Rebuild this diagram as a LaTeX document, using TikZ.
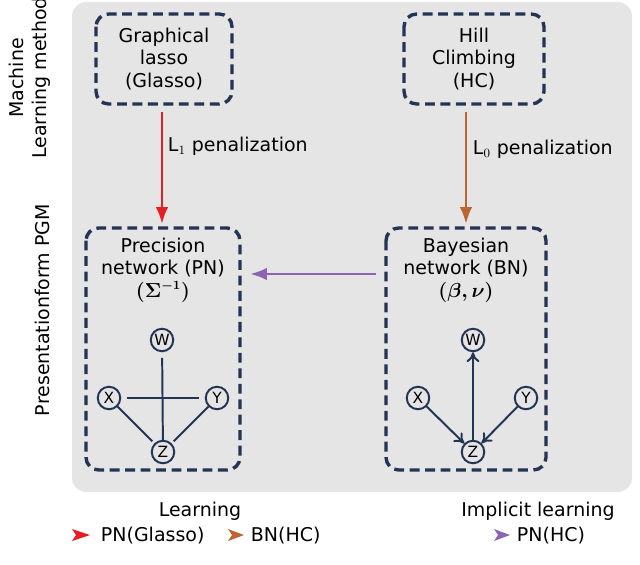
\documentclass[tikz,border=0pt]{standalone}
\usepackage{amsmath}
\usepackage{fontspec}
\setmainfont{DejaVu Sans}
\usetikzlibrary{arrows.meta}
\definecolor{navy}{RGB}{35,52,85}
\definecolor{bgray}{RGB}{229,229,229}
\definecolor{penred}{RGB}{230,30,35}
\definecolor{penbrown}{RGB}{190,100,50}
\definecolor{penpurple}{RGB}{140,100,180}
\tikzset{
  box/.style={draw=navy,line width=2.4pt,dash pattern=on 7pt off 4pt,rounded corners=9pt,align=center},
  var/.style={circle,draw=navy,line width=1.4pt,inner sep=0pt,minimum size=16pt,font=\fontsize{11}{12}\selectfont},
  edge/.style={draw=navy,line width=1.4pt},
  dir/.style={edge,-{Computer Modern Rightarrow[length=7pt,width=9pt]}},
  flow/.style={line width=2pt,-{Latex[length=12pt,width=9pt]}},
  txt/.style={align=center}
}
\begin{document}
\begin{tikzpicture}[x=0.025cm,y=-0.025cm,every node/.style={font=\fontsize{13.5}{16}\selectfont}]
    \useasboundingbox (0,0) rectangle (640,565);
    % Background panel
    \fill[bgray,rounded corners=10pt] (72,2) rectangle (632,492);

    % Method boxes
    \draw[box] (96,14) rectangle (232,104);
    \node[txt] (glasso) at (164,59) {Graphical\\lasso\\(Glasso)};
    \draw[box] (404,14) rectangle (544,104);
    \node[txt] (hc) at (474,59) {Hill\\Climbing\\(HC)};

    % PGM boxes
    \draw[box] (86,228) rectangle (240,470);
    \node[txt] (pn) at (163,270) {Precision\\network (PN)\\$\boldsymbol{(\Sigma^{-1})}$};
    \draw[box] (386,228) rectangle (546,470);
    \node[txt] (bn) at (466,270) {Bayesian\\network (BN)\\$\boldsymbol{(\beta,\nu)}$};

    % Row labels
    \node[txt,rotate=90] at (30,78) {Machine\\Learning method};
    \node[txt,rotate=90] at (42,310) {Presentationform PGM};

    % Arrows between boxes
    \coordinate (a1) at (162,112); \coordinate (b1) at (162,224);
    \draw[flow,penred] (a1) -- (b1);
    \node[anchor=west] at (163,146) {L$_1$ penalization};
    \coordinate (a2) at (466,112); \coordinate (b2) at (466,224);
    \draw[flow,penbrown] (a2) -- (b2);
    \node[anchor=west] at (468,149) {L$_0$ penalization};
    \coordinate (a3) at (376,274); \coordinate (b3) at (250,274);
    \draw[flow,penpurple] (a3) -- (b3);

    % Precision network
    \node[var] (w1) at (162,340) {W};
    \node[var] (x1) at (109,398) {X};
    \node[var] (y1) at (217,398) {Y};
    \node[var] (z1) at (163,452) {Z};
    \draw[edge,shorten <=4pt] (w1) -- (z1);
    \draw[edge,shorten <=4pt,shorten >=4pt] (x1) -- (y1);
    \draw[edge,shorten >=2pt] (x1) -- (z1);
    \draw[edge,shorten >=2pt] (y1) -- (z1);

    % Bayesian network
    \node[var] (w2) at (473,340) {W};
    \node[var] (x2) at (418,398) {X};
    \node[var] (y2) at (526,398) {Y};
    \node[var] (z2) at (473,452) {Z};
    \draw[dir] (z2) -- (w2);
    \draw[dir] (x2) -- (z2);
    \draw[dir] (y2) -- (z2);

    % Legend
    \node at (200,511) {Learning};
    \node at (538,511) {Implicit learning};
    \fill[penred] (72,529) -- (90,535) -- (72,541) -- (76,535) -- cycle;
    \node[anchor=west] at (96,536) {PN(Glasso)};
    \fill[penbrown] (228,529) -- (244,535) -- (228,541) -- (232,535) -- cycle;
    \node[anchor=west] at (246,536) {BN(HC)};
    \fill[penpurple] (494,529) -- (510,535) -- (494,541) -- (498,535) -- cycle;
    \node[anchor=west] at (512,536) {PN(HC)};
\end{tikzpicture}
\end{document}
